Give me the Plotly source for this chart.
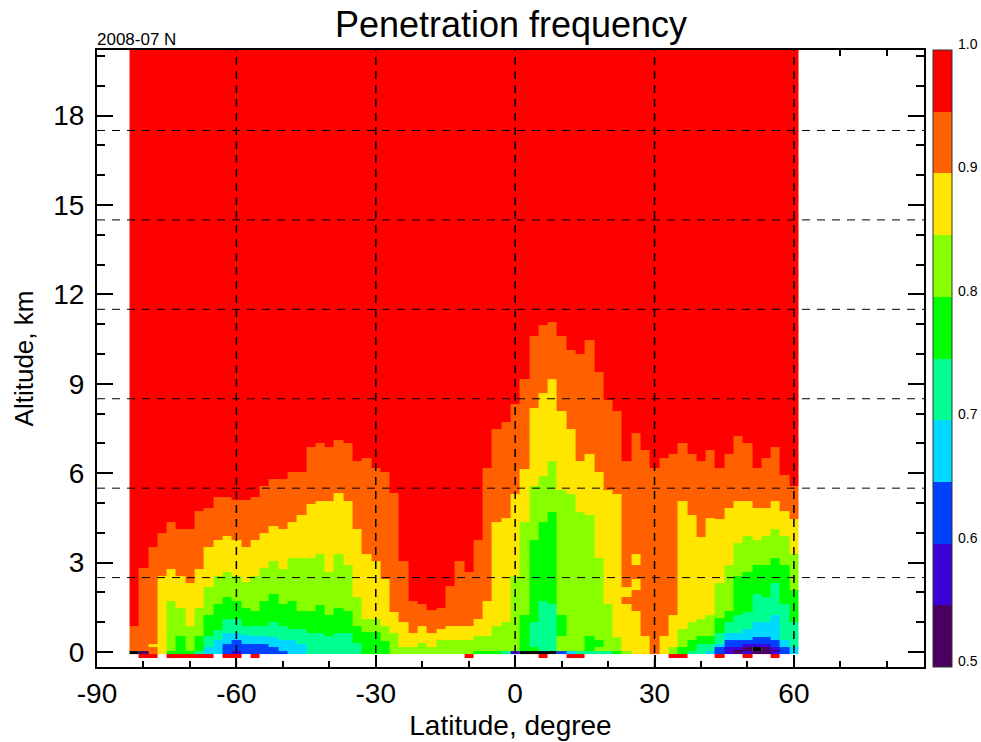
import numpy as np
import plotly.graph_objects as go

title_text = "Penetration frequency"
period_label = "2008-07 N"

# 2-degree latitude columns, centre values
latitudes = list(range(-82, 62, 2))

# Top altitude (km) of each frequency band, one value per latitude column; 0 = band absent
top_090 = [.87,2.82,3.52,4.0,4.36,4.13,4.13,4.73,4.83,5.2,5.2,5.1,5.1,5.2,5.57,5.81,5.81,6.04,6.04,6.88,7.01,6.88,7.11,7.01,6.41,6.51,6.17,6.04,5.34,3.05,1.71,1.61,1.41,1.48,2.21,3.05,2.68,3.76,6.17,7.48,7.72,8.32,9.16,10.6,10.97,11.07,10.6,10.13,10.0,10.47,9.4,8.46,8.09,6.41,7.35,6.78,6.17,6.51,6.64,7.01,6.64,6.41,6.78,6.17,6.64,7.25,7.01,6.17,6.51,6.88,5.94,5.57]
top_085 = [0,0,0,2.55,2.78,2.55,2.32,2.78,3.52,3.76,3.89,3.76,3.52,3.76,3.99,4.23,4.13,4.36,4.6,4.97,5.07,5.07,5.34,5.07,4.13,3.29,3.05,2.45,1.34,1.0,.64,.87,.64,.77,.87,.87,.87,1.11,1.71,4.36,4.5,5.3,6.14,8.19,8.69,9.16,8.09,7.48,6.41,6.64,6.04,5.44,5.3,2.18,1.38,.54,0,.54,1.24,5.07,4.6,3.86,4.5,4.46,4.83,5.07,5.07,4.83,4.83,5.07,4.73,4.46]
top_080 = [0,0,0,0,1.71,1.48,.87,1.48,2.18,2.55,2.68,2.55,2.35,2.55,2.82,3.05,2.78,3.15,3.15,3.15,3.29,2.68,3.29,2.92,1.85,1.11,1.11,.87,.64,.18,.18,.3,.17,.4,.4,.4,.4,.54,.54,.87,1.0,2.55,4.36,5.57,5.9,6.41,5.44,5.3,4.7,4.6,3.15,1.61,.5,0,0,0,0,0,.17,.77,1.0,1.11,1.24,2.32,2.92,3.66,3.89,3.76,3.89,4.13,3.89,3.29]
top_075 = [0,0,0,0,0,.54,0,.54,1.24,1.61,1.85,1.71,1.48,1.38,1.71,1.95,1.61,1.71,1.38,1.38,1.58,1.24,1.48,1.38,.87,.69,.69,.36,0,0,0,0,0,0,0,0,0,0,0,0,0,0,1.24,3.76,4.36,4.7,0,0,0,0,0,0,0,0,0,0,0,0,0,.17,.4,.54,.54,1.14,1.38,2.55,2.68,2.92,2.92,3.15,2.92,2.08]
top_070 = [0,0,0,0,0,0,0,0,.54,.74,1.11,1.11,.87,.87,.87,1.0,.87,.77,.77,.64,.64,.54,.64,.64,.3,0,0,0,0,0,0,0,0,0,0,0,0,0,0,0,0,0,0,1.0,1.71,1.61,0,0,0,0,0,0,0,0,0,0,0,0,0,0,0,.27,.27,.64,1.0,1.24,1.34,1.95,1.85,2.32,1.61,1.0]
top_065 = [0,0,0,0,0,0,0,0,.18,.4,.64,.64,.57,.54,.54,.5,.4,.4,.27,0,0,0,0,0,0,0,0,0,0,0,0,0,0,0,0,0,0,0,0,0,0,0,0,0,0,0,0,0,0,0,0,0,0,0,0,0,0,0,0,0,0,0,0,.27,.64,.64,.77,1.0,1.0,1.24,.4,.17]
top_060 = [0,0,0,0,0,0,0,0,0,0,.27,.4,.27,.27,.27,.17,0,0,0,0,0,0,0,0,0,0,0,0,0,0,0,0,0,0,0,0,0,0,0,0,0,0,0,0,0,0,0,0,0,0,0,0,0,0,0,0,0,0,0,0,0,0,0,.17,.4,.4,.4,.5,.5,.4,.17,0]
top_055 = [0,0,0,0,0,0,0,0,0,0,0,.03,0,0,0,0,0,0,0,0,0,0,0,0,0,0,0,0,0,0,0,0,0,0,0,0,0,0,0,0,0,0,0,0,0,0,0,0,0,0,0,0,0,0,0,0,0,0,0,0,0,0,0,0,.17,.17,.27,.27,.27,.17,0,0]
top_050 = [0,0,0,0,0,0,0,0,0,0,0,0,0,0,0,0,0,0,0,0,0,0,0,0,0,0,0,0,0,0,0,0,0,0,0,0,0,0,0,0,0,0,0,0,0,0,0,0,0,0,0,0,0,0,0,0,0,0,0,0,0,0,0,0,0,.06,.16,.16,.16,.06,0,0]
band_tops = [top_090, top_085, top_080, top_075, top_070, top_065, top_060, top_055, top_050]
band_values = [.925, .875, .825, .775, .725, .675, .625, .575, .525]
top_value = .975

# Isolated pockets that do not follow the stacked bands
pocket_lat = [-78, 24, 26, 26, 10, 4, 16, 18, 52]
pocket_low = [.18, 1.61, 2.92, 2.08, .54, .03, .03, .18, .03]
pocket_high = [.28, 1.85, 3.29, 2.45, 1.24, .17, .54, .4, .16]
pocket_value = [.875, .925, .875, .875, .775, .775, .775, .775, .45]

# Lowest row (around 0 km), one value per column
floor_row = [.45,.525,.925,.875,.775,.775,.775,.725,.675,.675,.625,.575,.625,.625,.625,.625,.625,.675,.675,.725,.725,.725,.725,.725,.725,.775,.775,.775,.825,.825,.825,.825,.825,.825,.825,.825,.825,.775,.775,.775,.725,.575,.45,.45,.45,.45,.625,.675,.725,.725,.725,.725,.775,.825,.875,.875,.925,.875,.825,.775,.725,.725,.675,.625,.575,.525,.575,.525,.525,.575,.625,.675]
# Columns that also have a cell just below ground
subfloor_lat = [-80,-78,-74,-72,-70,-68,-66,-62,-60,-56,-10,6,12,14,34,36,44,50,56]
subfloor_value = .975

floor_low, floor_high, subfloor_low = -.05, .03, -.19
alt_top = 20.3

# Colour key
band_colors = ["#4b0060","#3c00d8","#0040ff","#00d8ff","#00ff90","#00ff00","#88ff00","#ffe600","#ff6000","#ff0000"]
cbar_min, cbar_max = .5, 1.0
cbar_ticks = [.5,.6,.7,.8,.9,1.0]

# Axes and reference lines
x_range = [-90, 88]
y_range = [-.5, 20.2]
x_ticks = [-90,-60,-30,0,30,60]
y_ticks = [0,3,6,9,12,15,18]
lat_lines = [-60,-30,0,30,60]
alt_lines = [2.5,5.5,8.5,11.5,14.5,17.5]

# Build cell matrix on edges taken from the band tops
edges = {subfloor_low, floor_low, floor_high, alt_top}
for tops in band_tops:
    edges.update(t for t in tops if t > floor_high)
edges.update(t for t in pocket_low + pocket_high)
y_edges = np.array(sorted(edges))
mids = (y_edges[:-1] + y_edges[1:]) / 2
x_edges = np.array([latitudes[0] - 1] + [c + 1 for c in latitudes])

z = np.full((len(mids), len(latitudes)), np.nan)
for j, lat in enumerate(latitudes):
    for i, alt in enumerate(mids):
        if alt < floor_low:
            if lat in subfloor_lat:
                z[i, j] = subfloor_value
        elif alt < floor_high:
            z[i, j] = floor_row[j]
        else:
            v = top_value
            for tops, val in zip(band_tops, band_values):
                if alt < tops[j]:
                    v = val
            z[i, j] = v
    for la, lo, hi, val in zip(pocket_lat, pocket_low, pocket_high, pocket_value):
        if la == lat:
            z[(mids > lo) & (mids < hi), j] = val

black = np.where(z < cbar_min, 1.0, np.nan)
z_main = np.where(z < cbar_min, np.nan, z)

n = len(band_colors)
cscale = []
for k, c in enumerate(band_colors):
    cscale += [[k / n, c], [(k + 1) / n, c]]

W, H = 981, 742
L, R, T, B = 97, 57, 50, 75
plot_w = W - L - R

fig = go.Figure()
fig.add_trace(go.Heatmap(x=x_edges, y=y_edges, z=z_main, zmin=cbar_min, zmax=cbar_max,
    colorscale=cscale, hoverongaps=False,
    colorbar=dict(x=1 + 9/plot_w, xanchor="left", xpad=0, y=1, yanchor="top", ypad=0,
        thickness=19, thicknessmode="pixels", len=617, lenmode="pixels",
        tickvals=cbar_ticks, showticklabels=False, ticks="",
        outlinecolor="#333333", outlinewidth=1, borderwidth=0)))
fig.add_trace(go.Heatmap(x=x_edges, y=y_edges, z=black, zmin=0, zmax=1, showscale=False,
    colorscale=[[0,"black"],[1,"black"]], hoverongaps=False))

shapes = []
for v in lat_lines:
    shapes.append(dict(type="line", xref="x", yref="y", x0=v, x1=v, y0=y_range[0], y1=y_range[1],
                       line=dict(color="black", width=1.5, dash="8px,6px"), layer="above"))
for v in alt_lines:
    shapes.append(dict(type="line", xref="x", yref="y", x0=x_range[0], x1=x_range[1], y0=v, y1=v,
                       line=dict(color="black", width=1, dash="8px,7px"), layer="above"))

annotations = [dict(text=period_label, xref="paper", yref="paper", x=0, y=1, xanchor="left",
                    yanchor="bottom", showarrow=False, xshift=-2, yshift=-1,
                    font=dict(family="Liberation Sans", size=17, color="black"))]
for t in cbar_ticks:
    annotations.append(dict(text="%.1f" % t, xref="paper", yref="paper",
                            x=1 + 32/plot_w, y=(t - cbar_min)/(cbar_max - cbar_min),
                            xanchor="left", yanchor="bottom", showarrow=False, yshift=-4,
                            font=dict(family="Liberation Sans", size=14, color="black")))

tick_font = dict(family="Liberation Sans", size=28, color="black")
fig.update_layout(
    width=W, height=H, paper_bgcolor="white", plot_bgcolor="white",
    margin=dict(l=L, r=R, t=T, b=B, pad=0, autoexpand=False),
    font=dict(family="Liberation Sans", color="black"),
    title=dict(text=title_text, x=511/W, xanchor="center", xref="container",
               y=1-24/H, yanchor="middle", yref="container",
               font=dict(family="Liberation Sans", size=36, color="black")),
    shapes=shapes,
    annotations=annotations,
    xaxis=dict(range=x_range, tickvals=x_ticks, ticktext=[str(v) for v in x_ticks],
               ticks="inside", ticklen=12, tickwidth=2, tickcolor="black",
               minor=dict(dtick=10, tick0=-90, ticks="inside", ticklen=6, tickwidth=2, tickcolor="black"),
               showline=True, linewidth=2, linecolor="black", mirror="ticks", showgrid=False, zeroline=False,
               layer="below traces", tickfont=tick_font,
               title=dict(text="Latitude, degree", font=dict(family="Liberation Sans", size=28, color="black"), standoff=8)),
    yaxis=dict(range=y_range, tickvals=y_ticks, ticks="inside", ticklen=16, tickwidth=2, tickcolor="black",
               minor=dict(dtick=1, tick0=0, ticks="inside", ticklen=8, tickwidth=2, tickcolor="black"),
               showline=True, linewidth=2, linecolor="black", mirror="ticks", showgrid=False, zeroline=False,
               layer="below traces", tickfont=tick_font, ticklabelstandoff=5,
               title=dict(text="Altitude, km", font=dict(family="Liberation Sans", size=26, color="black"), standoff=12)),
)
fig.write_html("out.html", config={"displayModeBar": False},
               post_script="document.body.style.margin='0';")
